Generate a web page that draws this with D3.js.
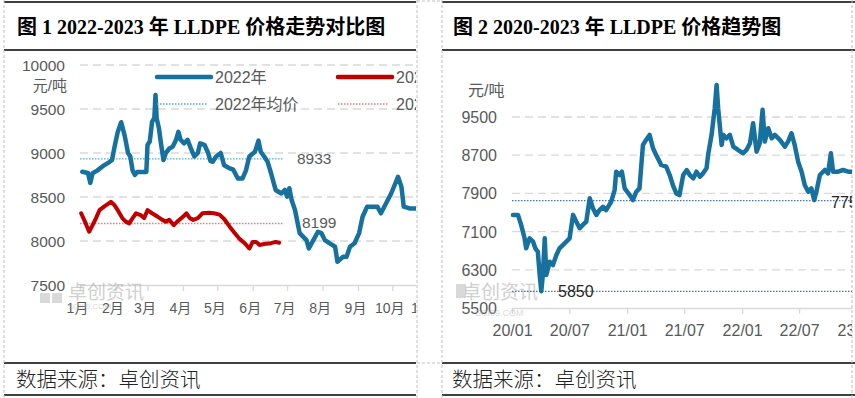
<!DOCTYPE html>
<html><head><meta charset="utf-8">
<script src="https://cdn.jsdelivr.net/npm/d3@7"></script>
<style>
html,body{margin:0;padding:0;background:#fff;}
svg{display:block;}
text{font-family:"Liberation Sans","Noto Sans CJK SC",sans-serif;}
</style></head>
<body>
<svg id="c" width="855" height="398"></svg>
<script>
// ---------- data ----------
const leftTitle = "图 1 2022-2023 年 LLDPE 价格走势对比图";
const rightTitle = "图 2 2020-2023 年 LLDPE 价格趋势图";
const sourceText = "数据来源：卓创资讯";
const unitText = "元/吨";
const leftYTicks = [7500, 8000, 8500, 9000, 9500, 10000];
const monthLabels = ["1月","2月","3月","4月","5月","6月","7月","8月","9月","10月","11月","12月"];
const legendNames = ["2022年", "2023年", "2022年均价", "2023年均价"];
const avg2022 = 8933, avg2023 = 8199;
// month-day, price
const price2022 = [
 ["01-03",8787],["01-08",8773],["01-10",8660],["01-12",8770],["01-16",8800],["01-22",8860],["01-27",8900],["01-29",8920],
 ["01-31",9057],["02-03",9240],["02-06",9350],["02-09",9200],["02-12",9000],["02-14",8960],["02-16",8800],["02-18",8750],
 ["02-20",8785],["02-28",8785],["03-01",9090],["03-03",9130],["03-05",9355],["03-07",9400],["03-08",9660],["03-09",9395],
 ["03-11",9280],["03-13",9090],["03-15",8920],["03-17",9000],["03-20",9050],["03-23",9070],["03-26",9150],["03-28",9240],
 ["03-30",9150],["04-02",9110],["04-05",9150],["04-08",9050],["04-11",8960],["04-14",9000],["04-16",9110],["04-18",9100],
 ["04-20",9090],["04-23",9000],["04-25",8910],["04-27",8900],["04-30",8960],["05-04",9000],["05-07",8860],["05-12",8825],
 ["05-15",8810],["05-19",8710],["05-23",8710],["05-26",8800],["05-29",8960],["06-03",9015],["06-06",9140],["06-08",9015],
 ["06-11",8960],["06-14",8900],["06-17",8770],["06-21",8580],["06-26",8540],["06-29",8580],["07-01",8505],["07-03",8600],
 ["07-05",8465],["07-08",8350],["07-12",8090],["07-15",8050],["07-18",8010],["07-20",7915],["07-24",8010],["07-28",8105],
 ["07-31",8090],["08-03",8010],["08-07",7975],["08-12",7935],["08-14",7765],["08-19",7820],["08-22",7820],["08-25",7935],
 ["08-29",7975],["09-02",8090],["09-05",8275],["09-09",8390],["09-14",8390],["09-18",8390],["09-21",8315],["09-24",8390],
 ["09-30",8540],["10-06",8730],["10-09",8615],["10-11",8390],["10-16",8370],["10-22",8370],["10-31",8370]
];
const price2023 = [
 ["01-02",8315],["01-06",8200],["01-09",8105],["01-12",8180],["01-15",8260],["01-18",8350],["01-22",8390],["01-28",8445],
 ["01-31",8410],["02-03",8350],["02-07",8260],["02-10",8220],["02-13",8200],["02-16",8260],["02-19",8315],["02-23",8295],
 ["02-26",8260],["03-01",8350],["03-05",8315],["03-10",8275],["03-14",8240],["03-17",8220],["03-20",8240],["03-24",8180],
 ["03-27",8220],["04-01",8275],["04-04",8315],["04-07",8260],["04-10",8240],["04-14",8260],["04-18",8315],["04-24",8320],
 ["04-28",8315],["05-03",8300],["05-07",8250],["05-12",8160],["05-16",8095],["05-20",8030],["05-25",7975],["05-29",7915],
 ["06-01",7990],["06-04",7990],["06-07",7955],["06-11",7965],["06-17",7975],["06-21",7990],["06-24",7980]
];
const rightYTicks = [5500, 6300, 7100, 7900, 8700, 9500];
const rightXTicks = ["20/01","20/07","21/01","21/07","22/01","22/07","23/01"];
const refLow = 5850, refMid = 7750;
const price2020_2023 = [
 ["2020-01-04",7450],["2020-01-20",7450],["2020-01-30",7240],["2020-02-10",6960],["2020-02-15",6750],["2020-02-26",6960],
 ["2020-03-08",6890],["2020-03-15",6750],["2020-03-23",6680],["2020-03-29",6190],["2020-04-03",5850],["2020-04-08",6190],
 ["2020-04-14",6960],["2020-04-19",6190],["2020-04-30",6470],["2020-05-10",6400],["2020-05-21",6610],["2020-05-31",6750],
 ["2020-06-16",6855],["2020-07-02",6960],["2020-07-13",7450],["2020-07-23",7310],["2020-08-03",7170],["2020-08-13",7240],
 ["2020-08-24",7310],["2020-09-04",7800],["2020-09-14",7590],["2020-09-25",7450],["2020-10-05",7550],["2020-10-16",7620],
 ["2020-10-26",7550],["2020-11-11",7725],["2020-11-22",7970],["2020-11-27",8355],["2020-12-08",8285],["2020-12-15",8355],
 ["2020-12-24",8005],["2021-01-09",7865],["2021-01-19",7760],["2021-01-30",7935],["2021-02-09",8005],["2021-02-20",8915],
 ["2021-03-02",9020],["2021-03-13",9125],["2021-03-24",8845],["2021-04-03",8705],["2021-04-19",8495],["2021-05-05",8460],
 ["2021-05-16",8285],["2021-05-26",8075],["2021-06-06",7900],["2021-06-16",7865],["2021-06-28",8285],["2021-07-09",8390],
 ["2021-07-19",8285],["2021-07-30",8215],["2021-08-09",8355],["2021-08-20",8250],["2021-08-30",8320],["2021-09-10",8425],
 ["2021-09-15",8705],["2021-09-26",9125],["2021-10-06",9680],["2021-10-12",10170],["2021-10-17",9680],["2021-10-22",9330],
 ["2021-10-28",8915],["2021-11-02",9125],["2021-11-12",9055],["2021-11-23",9125],["2021-12-04",8880],["2021-12-19",8810],
 ["2022-01-04",8740],["2022-01-15",8810],["2022-01-26",8950],["2022-02-05",9370],["2022-02-16",8775],["2022-02-26",8950],
 ["2022-03-07",9650],["2022-03-14",8985],["2022-03-25",9265],["2022-04-05",9055],["2022-04-15",9125],["2022-05-01",9020],
 ["2022-05-17",8880],["2022-05-27",8985],["2022-06-07",9160],["2022-06-17",8915],["2022-06-28",8565],["2022-07-09",8355],
 ["2022-07-19",8075],["2022-07-30",7935],["2022-08-09",8005],["2022-08-18",7760],["2022-08-25",7935],["2022-09-05",8285],
 ["2022-09-21",8390],["2022-10-01",8320],["2022-10-10",8740],["2022-10-17",8355],["2022-11-02",8355],["2022-11-18",8390],
 ["2022-12-04",8355],["2022-12-20",8355]
];

// ---------- drawing ----------
const svg = d3.select("#c");
const BLUE = "#17719e", RED = "#c00000", GRID = "#d9d9d9", LABEL = "#595959";
const parseMD = d3.timeParse("%Y-%m-%d");
const defs = svg.append("defs");
defs.append("clipPath").attr("id","clipL").append("rect").attr("x",4).attr("y",0).attr("width",412).attr("height",398);
defs.append("clipPath").attr("id","clipR").append("rect").attr("x",442).attr("y",0).attr("width",410).attr("height",398);

// panel frames
function frame(x0, x1){
  const g = svg.append("g");
  [2,50,363,395].forEach(y=>g.append("line").attr("x1",x0).attr("x2",x1).attr("y1",y).attr("y2",y)
     .attr("stroke","#000").attr("stroke-width",1.6));
  return g;
}
frame(4,416); frame(442,855);
[4,417,442,852].forEach(x=>svg.append("line").attr("x1",x).attr("x2",x).attr("y1",0).attr("y2",398)
  .attr("stroke","#bfbfbf").attr("stroke-dasharray","3,2").attr("stroke-width",1));
svg.append("line").attr("x1",417).attr("x2",442).attr("y1",363).attr("y2",363).attr("stroke","#bfbfbf").attr("stroke-dasharray","3,2");
svg.append("line").attr("x1",417).attr("x2",442).attr("y1",1).attr("y2",1).attr("stroke","#bfbfbf").attr("stroke-dasharray","3,2");

// titles & footers
[[17,leftTitle],[453,rightTitle]].forEach(([x,t])=>{
  svg.append("text").attr("x",x).attr("y",34).text(t)
    .style("font-family","'Liberation Serif','Noto Sans CJK SC',serif").style("font-weight","bold")
    .attr("font-size",20).attr("fill","#000");
});
[[16,sourceText],[452,sourceText]].forEach(([x,t])=>{
  svg.append("text").attr("x",x).attr("y",387).text(t)
    .style("font-family","'Noto Sans CJK SC',sans-serif").style("font-weight","300")
    .attr("font-size",20.5).attr("fill","#222");
});

// ---------- left chart ----------
const L = svg.append("g").attr("clip-path","url(#clipL)");
const x1 = d3.scaleTime().domain([new Date(2022,0,1), new Date(2023,0,1)]).range([80, 80+365*1.144]);
const y1 = d3.scaleLinear().domain([7500,10000]).range([285,65]);
const mdDate = s => parseMD("2022-"+s);

leftYTicks.slice(1).forEach(v=>L.append("line").attr("x1",80).attr("x2",430).attr("y1",y1(v)).attr("y2",y1(v))
  .attr("stroke",GRID).attr("stroke-width",1.3).attr("stroke-dasharray","8,5"));
const xa1 = d3.axisBottom(x1).ticks(d3.timeMonth.every(1)).tickSize(6)
  .tickFormat(d=>monthLabels[d.getMonth()]);
const gx1 = L.append("g").attr("transform",`translate(0,${y1(7500)})`).call(xa1);
gx1.select(".domain").attr("stroke",GRID).attr("stroke-width",1.3);
gx1.selectAll(".tick line").attr("stroke",GRID).attr("stroke-width",1.3);
gx1.selectAll(".tick text").attr("fill",LABEL).attr("font-size",14).attr("dy","1.35em").attr("dx",-3);

leftYTicks.forEach(v=>L.append("text").attr("x",65).attr("y",y1(v)+6).attr("text-anchor","end")
  .attr("font-size",15.5).attr("fill",LABEL).text(v));
L.append("text").attr("x",67).attr("y",91).attr("text-anchor","end").attr("font-size",15).attr("fill",LABEL).text(unitText);

// watermark
const wmL = L.append("g").attr("opacity",0.55);
wmL.append("rect").attr("x",40).attr("y",293).attr("width",10).attr("height",10).attr("fill","#bbb");
wmL.append("rect").attr("x",52).attr("y",293).attr("width",10).attr("height",10).attr("fill","#bbb");
wmL.append("text").attr("x",68).attr("y",299).attr("font-size",19).attr("fill","#aaa").text("卓创资讯");
wmL.append("text").attr("x",68).attr("y",309).attr("font-size",8).attr("fill","#bbb").text("SCI99.COM");

// averages
const avgEnd = mdDate("06-27");
L.append("line").attr("x1",80).attr("x2",x1(avgEnd)).attr("y1",y1(avg2022)).attr("y2",y1(avg2022))
  .attr("stroke","#56a9dc").attr("stroke-width",1.3).attr("stroke-dasharray","1.5,1.5");
L.append("line").attr("x1",80).attr("x2",x1(avgEnd)).attr("y1",y1(avg2023)).attr("y2",y1(avg2023))
  .attr("stroke","#e87b7b").attr("stroke-width",1.3).attr("stroke-dasharray","1.5,1.5");
L.append("text").attr("x",297).attr("y",y1(avg2022)+5).attr("font-size",15.5).attr("fill",LABEL).text(avg2022);
L.append("text").attr("x",302).attr("y",y1(avg2023)+5).attr("font-size",15.5).attr("fill",LABEL).text(avg2023);

const line1 = d3.line().x(d=>x1(mdDate(d[0]))).y(d=>y1(d[1])).curve(d3.curveLinear);
L.append("path").datum(price2023).attr("d",line1).attr("fill","none").attr("stroke",RED)
  .attr("stroke-width",4).attr("stroke-linejoin","round").attr("stroke-linecap","round");
L.append("path").datum(price2022).attr("d",line1).attr("fill","none").attr("stroke",BLUE)
  .attr("stroke-width",4.5).attr("stroke-linejoin","round").attr("stroke-linecap","round");

// legend
const leg = [[157,77,BLUE,null,legendNames[0]],[338,77,RED,null,legendNames[1]],
             [157,104,"#56a9dc","1.5,1.5",legendNames[2]],[338,104,"#e87b7b","1.5,1.5",legendNames[3]]];
leg.forEach(([x,y,c,dash,name])=>{
  const ln = L.append("line").attr("x1",x).attr("x2",x+(dash?50:54)).attr("y1",y).attr("y2",y).attr("stroke",c)
    .attr("stroke-width",dash?1.3:4.5).attr("stroke-linecap",dash?"butt":"round");
  if(dash) ln.attr("stroke-dasharray",dash);
  L.append("text").attr("x",x+58).attr("y",y+6).attr("font-size",16).attr("fill",LABEL).text(name);
});

// ---------- right chart ----------
const R = svg.append("g").attr("clip-path","url(#clipR)");
const x2 = d3.scaleTime().domain([new Date(2020,0,1), new Date(2023,0,1)]).range([512, 857]);
const y2 = d3.scaleLinear().domain([5500,10300]).range([308, 308-4800*0.04775]);
rightYTicks.slice(1).forEach(v=>R.append("line").attr("x1",512).attr("x2",860).attr("y1",y2(v)).attr("y2",y2(v))
  .attr("stroke",GRID).attr("stroke-width",1.3).attr("stroke-dasharray","8,5"));
const xa2 = d3.axisBottom(x2).ticks(d3.timeMonth.every(6)).tickSize(6)
  .tickFormat((d,i)=>rightXTicks[i]);
const gx2 = R.append("g").attr("transform",`translate(0,${y2(5500)})`).call(xa2);
gx2.select(".domain").attr("stroke",GRID).attr("stroke-width",1.3);
gx2.selectAll(".tick line").attr("stroke",GRID).attr("stroke-width",1.3);
gx2.selectAll(".tick text").attr("fill",LABEL).attr("font-size",16).attr("dy","1.2em");
rightYTicks.forEach(v=>R.append("text").attr("x",497).attr("y",y2(v)+6).attr("text-anchor","end")
  .attr("font-size",16).attr("fill",LABEL).text(v));
R.append("text").attr("x",468).attr("y",96).attr("font-size",16).attr("fill",LABEL).text(unitText);

const wmR = R.append("g").attr("opacity",0.55);
wmR.append("rect").attr("x",456).attr("y",284).attr("width",10).attr("height",14).attr("fill","#bbb");
wmR.append("text").attr("x",462).attr("y",299).attr("font-size",19).attr("fill","#aaa").text("卓创资讯");
wmR.append("text").attr("x",475).attr("y",316).attr("font-size",9).attr("fill","#bbb").text("SCI99.COM");

[refMid, refLow].forEach(v=>R.append("line").attr("x1",512).attr("x2",860).attr("y1",y2(v)).attr("y2",y2(v))
  .attr("stroke","#4472c4").attr("stroke-width",1.3).attr("stroke-dasharray","1.5,1.5"));
R.append("text").attr("x",558).attr("y",y2(refLow)+6).attr("font-size",16).attr("fill","#262626").text(refLow);

const line2 = d3.line().x(d=>x2(parseMD(d[0]))).y(d=>y2(d[1]));
R.append("path").datum(price2020_2023).attr("d",line2).attr("fill","none").attr("stroke",BLUE)
  .attr("stroke-width",4.5).attr("stroke-linejoin","round").attr("stroke-linecap","round");
R.append("text").attr("x",831).attr("y",y2(refMid)+7).attr("font-size",16).attr("fill","#262626").text(refMid);
</script>
</body></html>
